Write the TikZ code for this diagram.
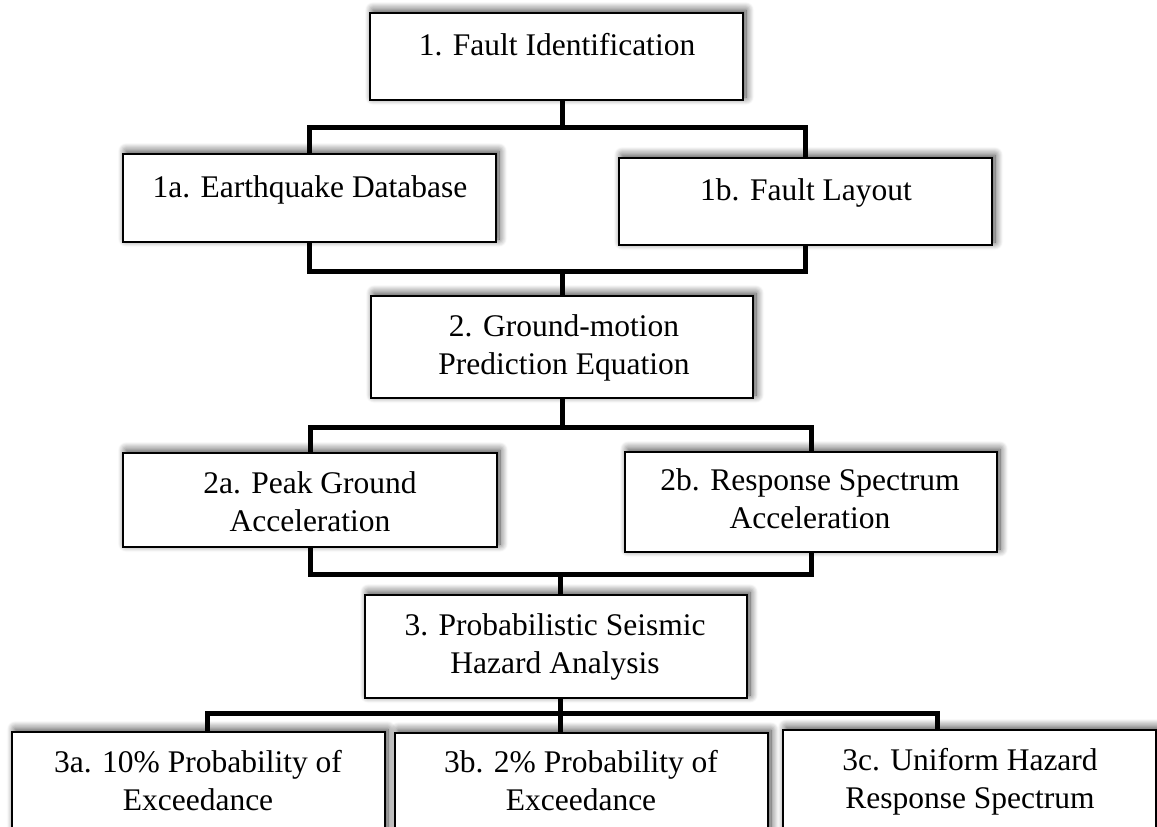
\documentclass[tikz,border=0pt]{standalone}
\usepackage{fontspec}
\setmainfont{Liberation Serif}
\usetikzlibrary{shadows.blur}
\begin{document}
\begin{tikzpicture}[x=1pt,y=-1pt,
  box/.style={draw=black, line width=2pt, fill=white, rectangle, inner sep=0pt,
    minimum width=373pt,
    blur shadow={shadow xshift=3pt, shadow yshift=3pt, shadow blur radius=8pt, shadow blur steps=12, shadow opacity=75}},
  lbl/.style={align=center, inner sep=0pt, font=\fontsize{31.5}{38}\selectfont},
  conn/.style={draw=black, line width=5pt}]
\useasboundingbox (0,0) rectangle (1157,827);
% boxes
\node[box, minimum height=87pt] (b1) at (556.5,56.5) {};
\node[box, minimum height=88pt] (b1a) at (309.5,198) {};
\node[box, minimum height=87pt] (b1b) at (805.5,201.5) {};
\node[box, minimum width=382pt, minimum height=102pt] (b2) at (562,347) {};
\node[box, minimum width=374pt, minimum height=94pt] (b2a) at (310,500) {};
\node[box, minimum width=372pt, minimum height=100pt] (b2b) at (811,502) {};
\node[box, minimum width=382pt, minimum height=103pt] (b3) at (556,646.5) {};
\node[box, minimum height=170pt] (b3a) at (198.5,817) {};
\node[box, minimum height=170pt] (b3b) at (581.5,818) {};
\node[box, minimum height=170pt] (b3c) at (969.5,815) {};
% labels
\node[lbl] (t1) at (557,47.4) {\strut 1. Fault Identification};
\node[lbl] (t1a) at (310,189.4) {\strut 1a. Earthquake Database};
\node[lbl] (t1b) at (806,192.4) {\strut 1b. Fault Layout};
\node[lbl] (t2) at (564,347.4) {\strut 2. Ground-motion\\\strut Prediction Equation};
\node[lbl] (t2a) at (310,504.4) {\strut 2a. Peak Ground\\\strut Acceleration};
\node[lbl] (t2b) at (810,501.4) {\strut 2b. Response Spectrum\\\strut Acceleration};
\node[lbl] (t3) at (555,646.4) {\strut 3. Probabilistic Seismic\\\strut Hazard Analysis};
\node[lbl] (t3a) at (198,783.4) {\strut 3a. 10\% Probability of\\\strut Exceedance};
\node[lbl] (t3b) at (581,783.4) {\strut 3b. 2\% Probability of\\\strut Exceedance};
\node[lbl] (t3c) at (970,781.4) {\strut 3c. Uniform Hazard\\\strut Response Spectrum};
% junctions
\coordinate (j1) at (562,127);
\coordinate (j2) at (562,271);
\coordinate (j3) at (562,427);
\coordinate (j4) at (560,574);
\coordinate (j5) at (560,713);
\coordinate (k1) at ([xshift=5.5pt]b1.south);
\coordinate (k3a) at ([xshift=8.5pt]b3a.north);
\coordinate (k3b) at (b3b.north -| j5);
\coordinate (k3c) at ([xshift=-32.5pt]b3c.north);
% connectors
\draw[conn] (k1) -- (j1);
\draw[conn] (b1a.north) |- (j1) -| (b1b.north);
\draw[conn] (b1a.south) |- (j2) -| (b1b.south);
\draw[conn] (j2) -- (b2.north -| j2);
\draw[conn] (b2.south -| j3) -- (j3);
\draw[conn] (b2a.north) |- (j3) -| (b2b.north);
\draw[conn] (b2a.south) |- (j4) -| (b2b.south);
\draw[conn] (j4) -- (b3.north -| j4);
\draw[conn] (b3.south -| j5) -- (j5);
\draw[conn] (k3a) |- (j5) -| (k3c);
\draw[conn] (j5) -- (k3b);
\end{tikzpicture}
\end{document}
